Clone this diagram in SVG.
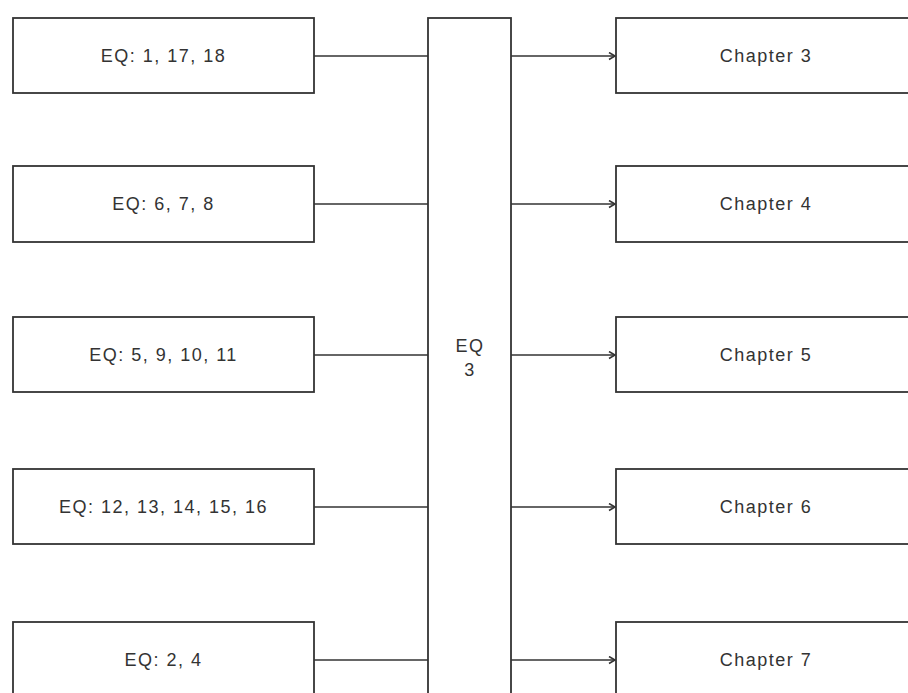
<svg xmlns="http://www.w3.org/2000/svg" width="908" height="693" viewBox="0 0 908 693">
<style>
.box{fill:#fff;stroke:#333;stroke-width:1.8}
.t{font-family:"Liberation Sans",Arial,sans-serif;font-size:18px;letter-spacing:1.5px;fill:#333;text-anchor:middle}
.c{fill:none;stroke:#333;stroke-width:1.6}
</style>
<defs>
<marker id="ah" markerWidth="10" markerHeight="10" refX="7" refY="4" orient="auto" markerUnits="userSpaceOnUse">
<path d="M1,0.5 L7,4 L1,7.5" fill="none" stroke="#333" stroke-width="1.6"/>
</marker>
</defs>
<rect width="908" height="693" fill="#fff"/>
<g id="connectors">
<line class="c" x1="314" y1="56" x2="428" y2="56"/>
<line class="c" x1="314" y1="204" x2="428" y2="204"/>
<line class="c" x1="314" y1="355" x2="428" y2="355"/>
<line class="c" x1="314" y1="507" x2="428" y2="507"/>
<line class="c" x1="314" y1="660" x2="428" y2="660"/>
<line class="c" x1="511" y1="56" x2="615" y2="56" marker-end="url(#ah)"/>
<line class="c" x1="511" y1="204" x2="615" y2="204" marker-end="url(#ah)"/>
<line class="c" x1="511" y1="355" x2="615" y2="355" marker-end="url(#ah)"/>
<line class="c" x1="511" y1="507" x2="615" y2="507" marker-end="url(#ah)"/>
<line class="c" x1="511" y1="660" x2="615" y2="660" marker-end="url(#ah)"/>
</g>
<g id="eq3">
<rect class="box" x="428" y="18" width="83" height="690"/>
<text class="t" x="470" y="352">EQ</text>
<text class="t" x="470" y="376">3</text>
</g>
<g id="in1"><rect class="box" x="13" y="18" width="301" height="75"/><text class="t" x="163.5" y="62">EQ: 1, 17, 18</text></g>
<g id="in2"><rect class="box" x="13" y="166" width="301" height="76"/><text class="t" x="163.5" y="210">EQ: 6, 7, 8</text></g>
<g id="in3"><rect class="box" x="13" y="317" width="301" height="75"/><text class="t" x="163.5" y="361">EQ: 5, 9, 10, 11</text></g>
<g id="in4"><rect class="box" x="13" y="469" width="301" height="75"/><text class="t" x="163.5" y="513">EQ: 12, 13, 14, 15, 16</text></g>
<g id="in5"><rect class="box" x="13" y="622" width="301" height="75"/><text class="t" x="163.5" y="666">EQ: 2, 4</text></g>
<g id="ch3"><rect class="box" x="616" y="18" width="301" height="75"/><text class="t" x="766" y="62">Chapter 3</text></g>
<g id="ch4"><rect class="box" x="616" y="166" width="301" height="76"/><text class="t" x="766" y="210">Chapter 4</text></g>
<g id="ch5"><rect class="box" x="616" y="317" width="301" height="75"/><text class="t" x="766" y="361">Chapter 5</text></g>
<g id="ch6"><rect class="box" x="616" y="469" width="301" height="75"/><text class="t" x="766" y="513">Chapter 6</text></g>
<g id="ch7"><rect class="box" x="616" y="622" width="301" height="75"/><text class="t" x="766" y="666">Chapter 7</text></g>
</svg>
